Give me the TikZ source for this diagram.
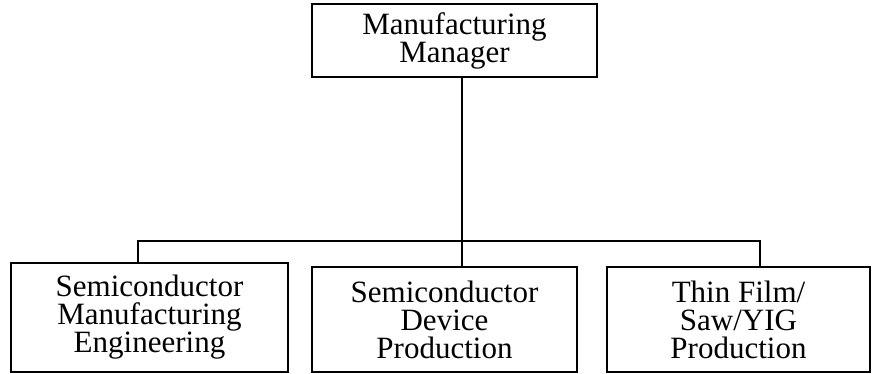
\documentclass[tikz,border=0pt]{standalone}
\usepackage{fontspec}
\setmainfont{Liberation Serif}
\begin{document}
\begin{tikzpicture}[x=1pt,y=1pt,
  box/.style={draw, line width=2.8pt, align=center, inner sep=0pt,
    font=\fontsize{31}{28}\selectfont},
  conn/.style={line width=2.8pt}]
\useasboundingbox (0,0) rectangle (872,374);
\node[box, minimum width=285, minimum height=73] (top) at (454.5,333.5) {Manufacturing\\Manager};
\node[box, minimum width=277, minimum height=109] (left) at (149.5,56.5) {Semiconductor\\Manufacturing\\Engineering};
\node[box, minimum width=265, minimum height=105] (mid) at (444.5,54.5) {Semiconductor\\Device\\Production};
\node[box, minimum width=263, minimum height=105] (right) at (738.5,54.5) {Thin Film/\\Saw/YIG\\Production};
\coordinate (bus) at (462,133);
\coordinate (busL) at (138,133);
\coordinate (busR) at (760,133);
\draw[conn] (top.south -| bus) -- (mid.north -| bus);
\draw[conn] (left.north -| busL) -- (busL) -- (busR) -- (right.north -| busR);
\end{tikzpicture}
\end{document}
